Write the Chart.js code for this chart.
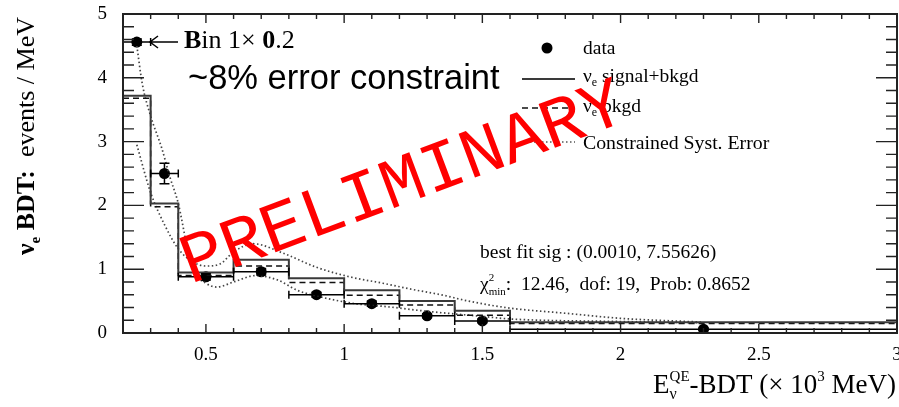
<!DOCTYPE html>
<html>
<head>
<meta charset="utf-8">
<script src="https://cdn.jsdelivr.net/npm/chart.js@4.4.1/dist/chart.umd.min.js"></script>
<style>
  html, body { margin: 0; padding: 0; background: #fff; }
  #wrap { width: 899px; height: 407px; }
</style>
</head>
<body>
<div id="wrap"><canvas id="c" width="899" height="407"></canvas></div>
<script>
// ---- binning (x 10^3 MeV) and bin contents (events / MeV) ----
const binEdges  = [0.2, 0.3, 0.4, 0.6, 0.8, 1.0, 1.2, 1.4, 1.6, 3.0];
const sigBkgd   = [3.72, 2.03, 0.95, 1.15, 0.86, 0.67, 0.50, 0.35, 0.17];
const bkgdOnly  = [3.68, 1.98, 0.90, 1.05, 0.79, 0.59, 0.44, 0.28, 0.15];

// ---- data points (bin centres), x-errors are the bin edges ----
const dataX    = [0.25, 0.35, 0.5, 0.7, 0.9, 1.1, 1.3, 1.5, 2.3];
const dataY    = [4.56, 2.50, 0.88, 0.96, 0.60, 0.46, 0.27, 0.19, 0.06];
const dataYErr = [0.05, 0.16, 0.05, 0.05, 0.04, 0.04, 0.03, 0.03, 0.02];

// ---- constrained systematic error envelope (two smoothed curves) ----
const systAX = [0.25, 0.3, 0.35, 0.4, 0.45, 0.5, 0.55, 0.6, 0.67, 0.78, 0.9, 1.02, 1.14, 1.25, 1.35, 1.45, 1.6, 1.8, 2.0, 2.3];
const systAY = [2.95, 2.2, 1.7, 1.32, 1.12, 1.05, 1.08, 1.27, 1.4, 1.25, 1.03, 0.88, 0.78, 0.68, 0.6, 0.5, 0.39, 0.31, 0.23, 0.17];
const systBX = [0.25, 0.27, 0.3, 0.34, 0.37, 0.4, 0.43, 0.46, 0.5, 0.54, 0.6, 0.68, 0.76, 0.83, 0.92, 1.04, 1.16, 1.3, 1.5, 1.6, 2.0, 2.3];
const systBY = [4.5, 3.9, 3.4, 2.9, 2.44, 2.03, 1.4, 0.95, 0.78, 0.72, 0.8, 0.9, 0.83, 0.67, 0.56, 0.46, 0.41, 0.34, 0.26, 0.22, 0.18, 0.16];

// ---- axis tick labels ----
const xTickLabels = [0.5, 1, 1.5, 2, 2.5, 3];
const yTickLabels = [0, 1, 2, 3, 4, 5];

const SERIF = '"Liberation Serif", "Times New Roman", serif';
const SANS  = '"Liberation Sans", Arial, sans-serif';
const MONO  = '"Liberation Mono", "Courier New", monospace';

function histPoints(vals) {
  const pts = vals.map((v, i) => ({ x: binEdges[i], y: v }));
  pts.push({ x: binEdges[binEdges.length - 1], y: vals[vals.length - 1] });
  return pts;
}
const zip = (xs, ys) => xs.map((x, i) => ({ x, y: ys[i] }));

// ---- rich text helper (sub/superscripts) ----
function fontOf(p) { return (p.b ? 'bold ' : '') + p.s + 'px ' + (p.f || SERIF); }
function layoutRich(ctx, parts) {
  let x = 0, lastStart = 0, lastW = 0;
  const pos = [];
  for (const p of parts) {
    ctx.font = fontOf(p);
    const w = ctx.measureText(p.t).width;
    if (p.stack) { pos.push(lastStart); const nw = Math.max(lastW, w); x = lastStart + nw; lastW = nw; }
    else { pos.push(x); lastStart = x; lastW = w; x += w; }
  }
  return { pos, width: x };
}
function drawRich(ctx, x, y, parts, align) {
  const m = layoutRich(ctx, parts);
  const x0 = align === 'center' ? x - m.width / 2 : align === 'right' ? x - m.width : x;
  ctx.textAlign = 'left';
  ctx.textBaseline = 'alphabetic';
  parts.forEach((p, i) => { ctx.font = fontOf(p); ctx.fillText(p.t, x0 + m.pos[i], y + (p.dy || 0)); });
}

// ---- frame with inward ticks on all four sides ----
const frameTicks = {
  id: 'frameTicks',
  afterDatasetsDraw(chart) {
    const { ctx, chartArea: a, scales: { x, y } } = chart;
    ctx.save();
    ctx.strokeStyle = '#222';
    ctx.lineWidth = 1.4;
    ctx.beginPath();
    for (let i = 2; i <= 30; i++) {
      const px = x.getPixelForValue(i / 10);
      const L = (i % 5 === 0) ? 9 : 5;
      ctx.moveTo(px, a.bottom); ctx.lineTo(px, a.bottom - L);
      ctx.moveTo(px, a.top);    ctx.lineTo(px, a.top + L);
    }
    for (let i = 0; i <= 25; i++) {
      const py = y.getPixelForValue(i / 5);
      const L = (i % 5 === 0) ? 21 : 11;
      ctx.moveTo(a.left, py);  ctx.lineTo(a.left + L, py);
      ctx.moveTo(a.right, py); ctx.lineTo(a.right - L, py);
    }
    ctx.stroke();
    ctx.lineWidth = 2;
    ctx.strokeRect(a.left, a.top, a.right - a.left, a.bottom - a.top);
    ctx.restore();
  }
};

// ---- error bars with end caps for the data points ----
const errorBars = {
  id: 'errorBars',
  afterDatasetsDraw(chart) {
    const { ctx, scales: { x, y } } = chart;
    ctx.save();
    ctx.strokeStyle = '#000';
    ctx.lineWidth = 1.5;
    ctx.beginPath();
    dataX.forEach((xv, i) => {
      const yc = y.getPixelForValue(dataY[i]);
      const xl = x.getPixelForValue(binEdges[i]);
      const xr = x.getPixelForValue(binEdges[i + 1]);
      ctx.moveTo(xl, yc); ctx.lineTo(xr, yc);
      ctx.moveTo(xl, yc - 4); ctx.lineTo(xl, yc + 4);
      ctx.moveTo(xr, yc - 4); ctx.lineTo(xr, yc + 4);
      const xc = x.getPixelForValue(xv);
      const yt = y.getPixelForValue(dataY[i] + dataYErr[i]);
      const yb = y.getPixelForValue(dataY[i] - dataYErr[i]);
      ctx.moveTo(xc, yt); ctx.lineTo(xc, yb);
      ctx.moveTo(xc - 5, yt); ctx.lineTo(xc + 5, yt);
      ctx.moveTo(xc - 5, yb); ctx.lineTo(xc + 5, yb);
    });
    ctx.stroke();
    ctx.restore();
  }
};

// ---- legend, annotations, axis titles and watermark ----
const decorations = {
  id: 'decorations',
  afterDraw(chart) {
    const ctx = chart.ctx;
    ctx.save();
    ctx.fillStyle = '#000';
    ctx.strokeStyle = '#000';

    // legend
    ctx.beginPath(); ctx.arc(547, 48, 5.5, 0, Math.PI * 2); ctx.fill();
    ctx.lineWidth = 1.8; ctx.strokeStyle = '#3a3a3a';
    ctx.beginPath(); ctx.moveTo(522, 79); ctx.lineTo(575, 79); ctx.stroke();
    ctx.lineWidth = 1.5; ctx.strokeStyle = '#111'; ctx.setLineDash([6, 4]);
    ctx.beginPath(); ctx.moveTo(522, 108); ctx.lineTo(575, 108); ctx.stroke();
    ctx.lineWidth = 1.6; ctx.strokeStyle = '#555'; ctx.setLineDash([1.5, 2.5]);
    ctx.beginPath(); ctx.moveTo(522, 142); ctx.lineTo(575, 142); ctx.stroke();
    ctx.setLineDash([]);
    drawRich(ctx, 583, 54, [{ t: 'data', s: 19.5 }]);
    drawRich(ctx, 583, 82, [{ t: 'ν', s: 19.5 }, { t: 'e', s: 12, dy: 4 }, { t: ' signal+bkgd', s: 19.5 }]);
    drawRich(ctx, 583, 112, [{ t: 'ν', s: 19.5 }, { t: 'e', s: 12, dy: 4 }, { t: ' bkgd', s: 19.5 }]);
    drawRich(ctx, 583, 149, [{ t: 'Constrained Syst. Error', s: 19.8 }]);

    // fit summary
    drawRich(ctx, 480, 258, [{ t: 'best fit sig : (0.0010, 7.55626)', s: 19.5 }]);
    drawRich(ctx, 480, 290, [
      { t: 'χ', s: 19.5 }, { t: '2', s: 11, dy: -9 }, { t: 'min', s: 11, dy: 5, stack: true },
      { t: ':  12.46,  dof: 19,  Prob: 0.8652', s: 19.5 }
    ]);

    // first-bin note with arrow
    ctx.strokeStyle = '#000'; ctx.lineWidth = 1.5;
    ctx.beginPath();
    ctx.moveTo(150, 42); ctx.lineTo(178, 42);
    ctx.moveTo(158, 36); ctx.lineTo(150, 42); ctx.lineTo(158, 48);
    ctx.stroke();
    drawRich(ctx, 184, 48, [{ t: 'B', s: 26, b: true }, { t: 'in 1× ', s: 26 }, { t: '0', s: 26, b: true }, { t: '.2', s: 26 }]);
    drawRich(ctx, 188, 89, [{ t: '~8% error constraint', s: 34.5, f: SANS }]);

    // x-axis title
    drawRich(ctx, 896, 393, [
      { t: 'E', s: 27 }, { t: 'ν', s: 16, dy: 6 }, { t: 'QE', s: 15, dy: -12, stack: true },
      { t: '-BDT (× 10', s: 27 }, { t: '3', s: 15, dy: -12 }, { t: ' MeV)', s: 27 }
    ], 'right');

    // y-axis title
    ctx.save();
    ctx.translate(34, 136);
    ctx.rotate(-Math.PI / 2);
    drawRich(ctx, 0, 0, [
      { t: 'ν', s: 26, b: true }, { t: 'e', s: 15, b: true, dy: 6 },
      { t: ' BDT:', s: 26, b: true }, { t: '  events / MeV', s: 26 }
    ], 'center');
    ctx.restore();

    // watermark
    ctx.save();
    ctx.translate(410, 202);
    ctx.rotate(-20.5 * Math.PI / 180);
    ctx.fillStyle = '#ff0000';
    ctx.font = '71px ' + MONO;
    ctx.textAlign = 'center';
    ctx.textBaseline = 'alphabetic';
    ctx.fillText('PRELIMINARY', 0, 0);
    ctx.restore();

    ctx.restore();
  }
};

new Chart(document.getElementById('c'), {
  type: 'line',
  data: {
    datasets: [
      { label: 'νe signal+bkgd', data: histPoints(sigBkgd), stepped: true,
        borderColor: '#3a3a3a', borderWidth: 2, pointRadius: 0, fill: false },
      { label: 'νe bkgd', data: histPoints(bkgdOnly), stepped: true,
        borderColor: '#111', borderWidth: 1.5, borderDash: [6, 4], pointRadius: 0, fill: false },
      { label: 'Constrained Syst. Error', data: zip(systAX, systAY),
        borderColor: '#444', borderWidth: 1.7, borderDash: [1.5, 2.5], pointRadius: 0,
        cubicInterpolationMode: 'monotone', fill: false },
      { label: 'Constrained Syst. Error (2)', data: zip(systBX, systBY),
        borderColor: '#444', borderWidth: 1.7, borderDash: [1.5, 2.5], pointRadius: 0,
        cubicInterpolationMode: 'monotone', fill: false },
      { label: 'data', data: zip(dataX, dataY), showLine: false,
        pointRadius: 5.5, pointBackgroundColor: '#000', pointBorderColor: '#000', pointBorderWidth: 0 }
    ]
  },
  options: {
    responsive: false,
    animation: false,
    devicePixelRatio: 1,
    layout: { padding: { left: 0, right: 2, top: 14, bottom: 0 }, autoPadding: false },
    plugins: { legend: { display: false }, tooltip: { enabled: false } },
    scales: {
      x: {
        type: 'linear', min: 0.2, max: 3,
        grid: { display: false }, border: { display: false },
        afterBuildTicks: s => { s.ticks = xTickLabels.map(v => ({ value: v })); },
        afterFit: s => { s.height = 74; s.paddingLeft = 0; s.paddingRight = 0; },
        ticks: { font: { family: SERIF, size: 19 }, color: '#000', padding: 3,
                 maxRotation: 0, autoSkip: false, callback: v => String(v) }
      },
      y: {
        type: 'linear', min: 0, max: 5,
        grid: { display: false }, border: { display: false },
        afterBuildTicks: s => { s.ticks = yTickLabels.map(v => ({ value: v })); },
        afterFit: s => { s.width = 123; s.paddingTop = 0; s.paddingBottom = 0; },
        ticks: { font: { family: SERIF, size: 19 }, color: '#000', padding: 8,
                 autoSkip: false, callback: v => String(v) }
      }
    }
  },
  plugins: [errorBars, frameTicks, decorations]
});
</script>
</body>
</html>
